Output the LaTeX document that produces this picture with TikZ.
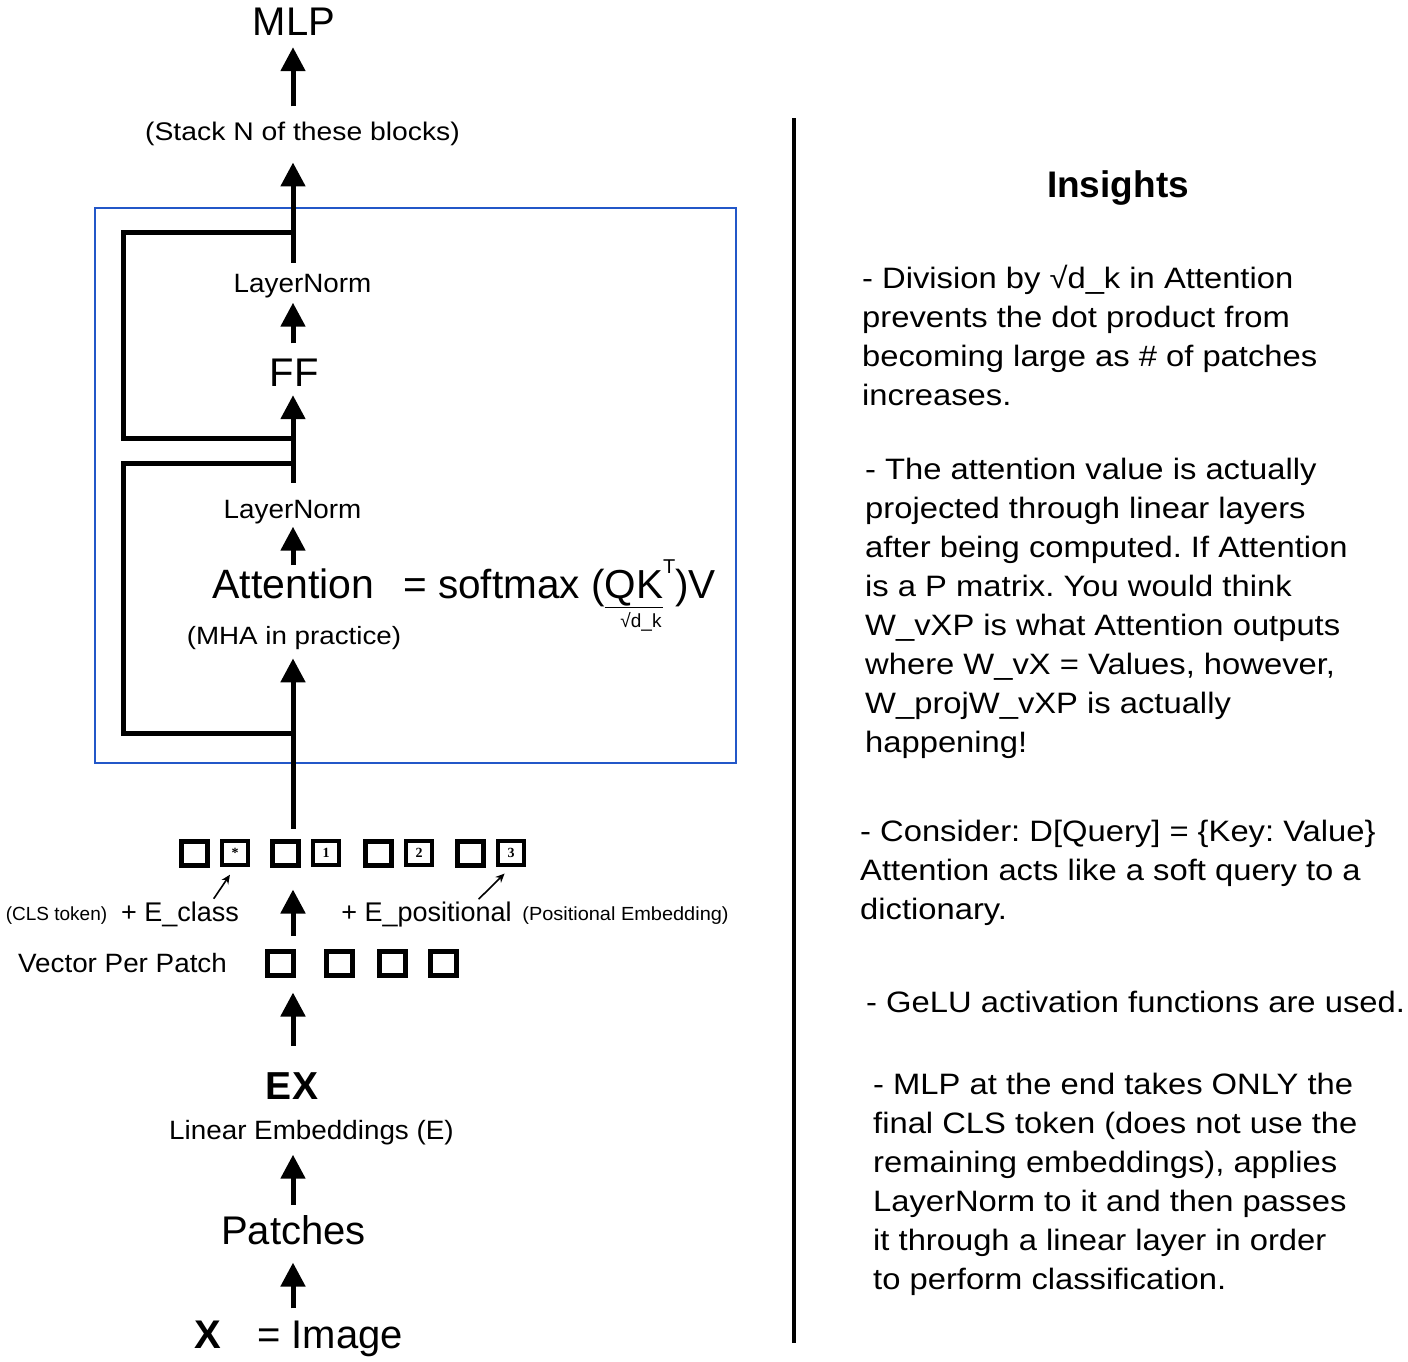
\documentclass[tikz,border=0pt]{standalone}
\usepackage{fontspec}
\setmainfont{Liberation Sans}
\newfontfamily\widefont[FakeStretch=1.11]{Liberation Sans}
\newfontfamily\midfont[FakeStretch=1.05]{Liberation Sans}
\newfontfamily\digitfont{Liberation Serif}
\usetikzlibrary{arrows.meta}
\newcommand\fsz[1]{\fontsize{#1}{#1}\selectfont}
\definecolor{blockblue}{RGB}{35,87,200}
\frenchspacing

\begin{document}
\begin{tikzpicture}[x=1pt, y=-1pt,
    lbl/.style={inner sep=0pt, anchor=base},
    flow/.style={-{Triangle[width=24pt,length=24pt]}, line width=5pt},
    skip/.style={line width=5pt},
    ptr/.style={-{Stealth[length=9pt,width=8pt]}, line width=1.6pt},
    tok/.style={draw, line width=5pt, minimum width=26pt, minimum height=24pt, inner sep=0pt},
    postok/.style={tok, line width=4.5pt, minimum width=26pt, minimum height=24pt, font=\digitfont\bfseries\fsz{14}},
    insight/.style={inner sep=0pt, anchor=north west, align=left, font=\widefont\fontsize{29.5}{39}\selectfont}
]
\useasboundingbox (0,0) rectangle (1408,1361);
\coordinate (spine) at (293,0);

% Transformer block
\node[draw=blockblue, line width=2pt, minimum width=641pt, minimum height=555pt, inner sep=0pt] (block) at (415.5,485.5) {};

% Left column labels
\node[lbl, font=\fsz{40}] (mlp) at (294,35) {MLP};
\node[lbl, font=\widefont\fsz{25.5}] (stack) at (302.5,140) {(Stack N of these blocks)};
\node[lbl, font=\midfont\fsz{26.5}] (ln2) at (302.5,292) {LayerNorm};
\node[lbl, font=\fsz{40}] (ff) at (294,386) {FF};
\node[lbl, font=\midfont\fsz{26.5}] (ln1) at (292.5,518) {LayerNorm};
\node[lbl, font=\fsz{41}] (att) at (293.5,598) {Attention};
\node[lbl, anchor=base west, font=\fsz{40.5}] (softmax) at (403,598)
    {= softmax (\underline{QK}\raisebox{25pt}{\fsz{20}T})V};
\node[lbl, font=\fsz{19}] (sqrtdk) at (641,627) {√d\_k};
\node[lbl, font=\widefont\fsz{25}] (mha) at (294,644) {(MHA in practice)};

% Token rows
\foreach \n/\x/\d in {0/194/*, 1/285/1, 2/378/2, 3/470/3} {
    \node[tok] (tok\n) at (\x,853) {};
    \node[postok] (pos\n) at (\x+41,853) {\d};
}
\foreach \n/\x in {0/280, 1/339, 2/392, 3/443}
    \node[tok] (vec\n) at (\x,963) {};

\node[lbl, font=\fsz{19}] (cls) at (56.5,920) {(CLS token)};
\node[lbl, font=\fsz{27}] (eclass) at (180,921) {+ E\_class};
\node[lbl, font=\fsz{27}] (epos) at (426.5,921) {+ E\_positional};
\node[lbl, font=\midfont\fsz{19}] (posemb) at (625.5,920) {(Positional Embedding)};
\node[lbl, font=\midfont\fsz{26.5}] (vpp) at (122.5,972) {Vector Per Patch};

\node[lbl, font=\bfseries\fsz{39}] (ex) at (292,1099) {EX};
\node[lbl, font=\midfont\fsz{26.5}] (linemb) at (311.5,1139) {Linear Embeddings (E)};
\node[lbl, font=\fsz{40}] (patches) at (293.5,1244) {Patches};
\node[lbl, font=\bfseries\fsz{40}] (imgx) at (208,1348) {X};
\node[lbl, font=\fsz{40}] (image) at (330,1348) {= Image};

% Arrows
\draw[flow, shorten <=15pt, shorten >=12pt] (stack.north -| spine) -- (mlp.south -| spine);
\draw[flow, shorten <=11pt, shorten >=17pt] (ln2.north -| spine) -- (stack.south -| spine);
\draw[flow, shorten <=15pt, shorten >=5pt] (ff.north -| spine) -- (ln2.south -| spine);
\draw[flow, shorten <=17pt, shorten >=9pt] (ln1.north -| spine) -- (ff.south -| spine);
\draw[flow, shorten <=3pt, shorten >=3pt] (att.north -| spine) -- (ln1.south -| spine);
\draw[flow, shorten <=10pt, shorten >=9pt] (tok1.north -| spine) -- (mha.south -| spine);
\draw[flow, shorten <=13pt, shorten >=22pt] (vec0.north -| spine) -- (tok1.south -| spine);
\draw[flow, shorten <=26pt, shorten >=15pt] (ex.north -| spine) -- (vec0.south -| spine);
\draw[flow, shorten <=10pt, shorten >=10pt] (patches.north -| spine) -- (linemb.south -| spine);
\draw[flow, shorten <=12pt, shorten >=18pt] (image.north -| spine) -- (patches.south -| spine);
\draw[ptr, shorten <=3pt, shorten >=9pt] ([xshift=32pt]eclass.north) -- (pos0.south);
\draw[ptr, shorten <=3pt, shorten >=9pt] ([xshift=50pt]epos.north) -- (pos3.south);

% Residual connections
\coordinate (skipA) at (293,232);
\coordinate (skipB) at (293,438);
\coordinate (skipC) at (293,463);
\coordinate (skipD) at (293,733);
\draw[skip] (skipA) -- ++(-170,0) |- (skipB);
\draw[skip] (skipC) -- ++(-170,0) |- (skipD);

% Divider
\draw[line width=4pt] (794,118) -- (794,1343);

% Insights
\node[lbl, font=\bfseries\fsz{37}] (title) at (1118,197) {Insights};
\node[insight] (ins1) at (862,260.7) {\strut- Division by √d\_k in Attention\\
    prevents the dot product from\\
    becoming large as \# of patches\\
    increases.};
\node[insight] (ins2) at (865,451.7) {\strut- The attention value is actually\\
    projected through linear layers\\
    after being computed. If Attention\\
    is a P matrix. You would think\\
    W\_vXP is what Attention outputs\\
    where W\_vX = Values, however,\\
    W\_projW\_vXP is actually\\
    happening!};
\node[insight] (ins3) at (860,813.7) {\strut- Consider: D[Query] = \{Key: Value\}\\
    Attention acts like a soft query to a\\
    dictionary.};
\node[insight] (ins4) at (866,984.7) {\strut- GeLU activation functions are used.};
\node[insight] (ins5) at (873,1066.7) {\strut- MLP at the end takes ONLY the\\
    final CLS token (does not use the\\
    remaining embeddings), applies\\
    LayerNorm to it and then passes\\
    it through a linear layer in order\\
    to perform classification.};
\end{tikzpicture}
\end{document}
